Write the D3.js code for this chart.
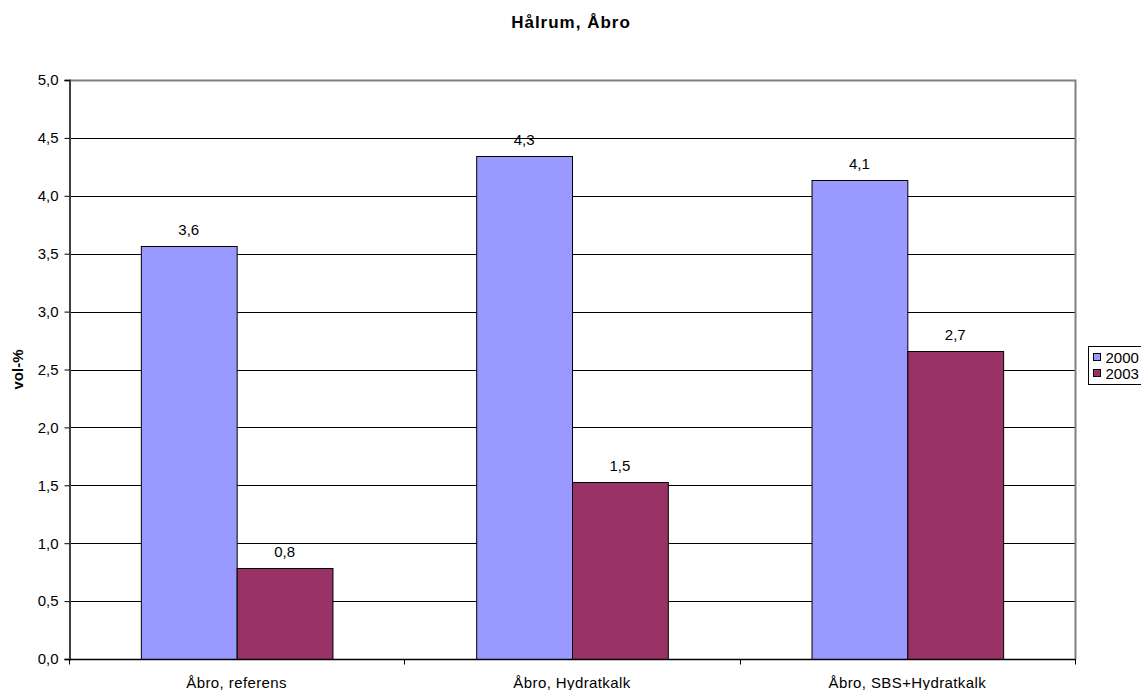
<!DOCTYPE html>
<html>
<head>
<meta charset="utf-8">
<script src="https://cdn.jsdelivr.net/npm/d3@7"></script>
<style>
  html, body { margin: 0; padding: 0; background: #fff; }
  svg { display: block; font-family: "Liberation Sans", Arial, sans-serif; }
</style>
</head>
<body>
<svg id="chart" width="1141" height="690"></svg>
<script>
// Void content (vol-%) per section, measured 2000 and 2003
const categories = ["Åbro, referens", "Åbro, Hydratkalk", "Åbro, SBS+Hydratkalk"];
const seriesNames = ["2000", "2003"];
const values2000 = [3.57, 4.34, 4.14];
const values2003 = [0.79, 1.53, 2.66];
const yTicks = [0, 0.5, 1, 1.5, 2, 2.5, 3, 3.5, 4, 4.5, 5];
const colors = ["#9999ff", "#993366"];

const svg = d3.select("#chart");
const margin = { left: 69, right: 1075, top: 80, bottom: 659 };

const x = d3.scaleBand().domain(categories).range([margin.left, margin.right]).paddingInner(0).paddingOuter(0);
const gap = 1.5; // gap between clusters, in bar widths
const barW = x.bandwidth() / (seriesNames.length + gap);
const xs = d3.scaleBand().domain(seriesNames)
  .range([barW * gap / 2, barW * gap / 2 + barW * seriesNames.length]);

const y = d3.scaleLinear().domain([0, 5]).range([margin.bottom, margin.top]);
const fmt = v => d3.format(".1f")(v).replace(".", ",");

// Title
svg.append("text").attr("x", 571).attr("y", 28).attr("text-anchor", "middle")
  .attr("font-weight", "bold").attr("font-size", 17).attr("letter-spacing", 1).text("Hålrum, Åbro");

// Y axis title
svg.append("text").attr("transform", `translate(23,${(margin.top + margin.bottom) / 2}) rotate(-90)`)
  .attr("text-anchor", "middle").attr("font-weight", "bold").attr("font-size", 15).text("vol-%");

// Gridlines
svg.append("g").selectAll("line").data(yTicks.filter(t => t > 0 && t < 5)).join("line")
  .attr("x1", margin.left).attr("x2", margin.right)
  .attr("y1", d => Math.round(y(d)) + 0.5).attr("y2", d => Math.round(y(d)) + 0.5)
  .attr("stroke", "#000").attr("stroke-width", 1);

// Plot border (top and right)
svg.append("path")
  .attr("d", `M${margin.left},${margin.top + 0.5}H${margin.right + 0.5}V${margin.bottom}`)
  .attr("fill", "none").attr("stroke", "#808080").attr("stroke-width", 2);

// Bars
const data = categories.map((c, i) => ({ cat: c, vals: [values2000[i], values2003[i]] }));
const groups = svg.append("g").selectAll("g").data(data).join("g")
  .attr("transform", d => `translate(${x(d.cat)},0)`);

groups.selectAll("rect").data(d => d.vals.map((v, j) => ({ s: seriesNames[j], v, j }))).join("rect")
  .attr("x", d => xs(d.s) + 0.5)
  .attr("y", d => Math.round(y(d.v)) + 0.5)
  .attr("width", xs.bandwidth())
  .attr("height", d => margin.bottom - Math.round(y(d.v)))
  .attr("fill", d => colors[d.j])
  .attr("stroke", "#000").attr("stroke-width", 1);

groups.selectAll("text.val").data(d => d.vals.map((v, j) => ({ s: seriesNames[j], v, j }))).join("text")
  .attr("class", "val")
  .attr("x", d => xs(d.s) + xs.bandwidth() / 2)
  .attr("y", d => y(d.v) - 11)
  .attr("text-anchor", "middle").attr("font-size", 15)
  .text(d => fmt(d.v));

// Y axis
const yAxis = d3.axisLeft(y).tickValues(yTicks).tickSize(5).tickPadding(6).tickFormat(fmt);
const gy = svg.append("g").attr("transform", `translate(${margin.left + 0.5},0)`).call(yAxis);
gy.select(".domain").attr("stroke", "#404040").attr("stroke-width", 2);
gy.selectAll(".tick line").attr("stroke", "#000");
gy.selectAll(".tick text").attr("font-size", 15).attr("fill", "#000").attr("font-family", "Liberation Sans, Arial, sans-serif");

// X axis with tick marks at category boundaries
const gx = svg.append("g").attr("transform", `translate(0,${margin.bottom + 0.5})`);
gx.append("line").attr("x1", margin.left).attr("x2", margin.right + 1)
  .attr("stroke", "#000").attr("stroke-width", 1.5);
const bounds = categories.map(c => x(c)).concat([margin.right]);
gx.selectAll("line.tk").data(bounds).join("line").attr("class", "tk")
  .attr("x1", d => Math.round(d) + 0.5).attr("x2", d => Math.round(d) + 0.5)
  .attr("y1", 0).attr("y2", 5).attr("stroke", "#000");
gx.selectAll("text").data(categories).join("text")
  .attr("x", d => x(d) + x.bandwidth() / 2).attr("y", 28)
  .attr("text-anchor", "middle").attr("font-size", 15).attr("letter-spacing", 0.4).text(d => d);

// Legend
const lg = svg.append("g").attr("transform", "translate(1088.5,346.5)");
lg.append("rect").attr("width", 70).attr("height", 38).attr("fill", "#fff")
  .attr("stroke", "#000").attr("stroke-width", 1);
seriesNames.forEach((s, i) => {
  const row = lg.append("g").attr("transform", `translate(5,${7 + i * 16})`);
  row.append("rect").attr("width", 7).attr("height", 7).attr("fill", colors[i]).attr("stroke", "#000");
  row.append("text").attr("x", 12).attr("y", 9).attr("font-size", 15).text(s);
});
</script>
</body>
</html>
